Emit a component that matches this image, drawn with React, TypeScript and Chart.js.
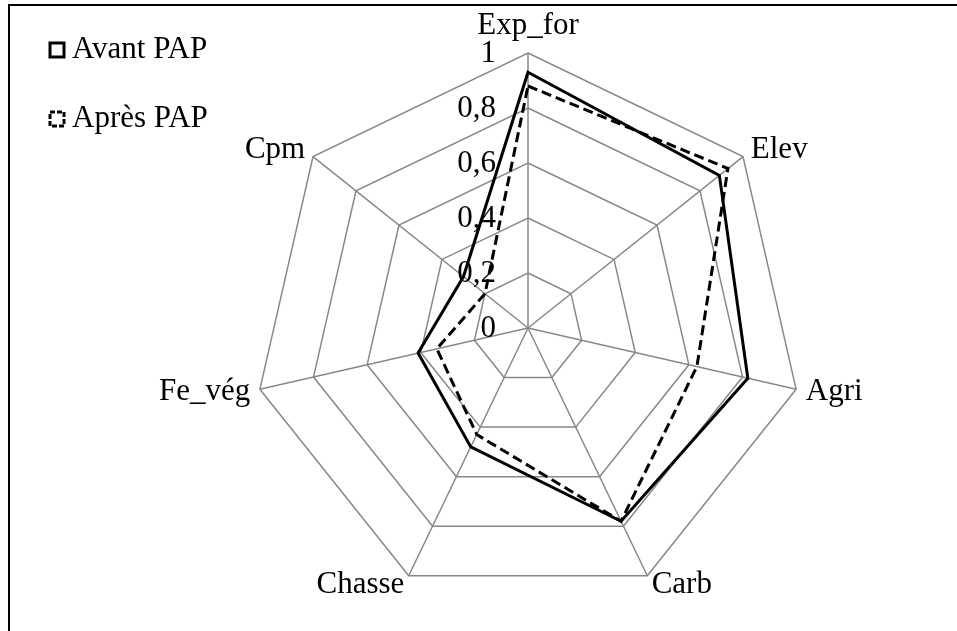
import React, { useEffect, useRef } from "react";
import { Chart, registerables } from "chart.js";

Chart.register(...registerables);

const categories = ["Exp_for", "Elev", "Agri", "Carb", "Chasse", "Fe_vég", "Cpm"];
const avantPAP = [0.93, 0.89, 0.82, 0.78, 0.48, 0.41, 0.3];
const apresPAP = [0.88, 0.93, 0.63, 0.78, 0.43, 0.34, 0.2];
const tickValues = [0, 0.2, 0.4, 0.6, 0.8, 1];
const tickLabels = ["0", "0,2", "0,4", "0,6", "0,8", "1"];
const seriesNames = ["Avant PAP", "Après PAP"];

const FONT = "31px 'Liberation Serif', 'Times New Roman', serif";

const overlayPlugin = {
  id: "overlay",
  beforeDraw(chart: any) {
    const ctx = chart.ctx;
    ctx.save();
    ctx.fillStyle = "#fff";
    ctx.fillRect(0, 0, chart.width, chart.height);
    ctx.strokeStyle = "#000";
    ctx.lineWidth = 2;
    ctx.strokeRect(9, 5, chart.width + 20, chart.height + 20);
    ctx.restore();
  },
  afterDraw(chart: any) {
    const ctx = chart.ctx;
    const r = chart.scales.r;
    ctx.save();
    ctx.font = FONT;
    ctx.fillStyle = "#000";
    // point labels
    categories.forEach((lab, i) => {
      const p0 = r.getPointPosition(i, r.drawingArea);
      if (Math.abs(p0.x - r.xCenter) < 1 && p0.y < r.yCenter) {
        const p = r.getPointPosition(i, r.drawingArea + 27);
        ctx.textAlign = "center";
        ctx.textBaseline = "middle";
        ctx.fillText(lab, p.x, p.y);
      } else {
        const p = r.getPointPosition(i, r.drawingArea + 10);
        ctx.textAlign = p.x > r.xCenter ? "left" : "right";
        ctx.textBaseline = "middle";
        ctx.fillText(lab, p.x, p.y);
      }
    });
    // tick labels
    ctx.textAlign = "right";
    ctx.textBaseline = "middle";
    tickValues.forEach((v, i) => {
      const d = r.getDistanceFromCenterForValue(v);
      ctx.fillText(tickLabels[i], r.xCenter - 32, r.yCenter - d + 1);
    });
    // legend
    const items = [
      { name: seriesNames[0], y: 50, dash: [] as number[] },
      { name: seriesNames[1], y: 119, dash: [5, 2] },
    ];
    items.forEach((it) => {
      ctx.save();
      ctx.strokeStyle = "#000";
      ctx.lineWidth = 3;
      ctx.setLineDash(it.dash);
      ctx.strokeRect(50, it.y - 7, 14, 14);
      ctx.restore();
      ctx.textAlign = "left";
      ctx.textBaseline = "middle";
      ctx.fillText(it.name, 72, it.y);
    });
    ctx.restore();
  },
};

export default function App() {
  const ref = useRef<HTMLCanvasElement>(null);
  useEffect(() => {
    if (!ref.current) return;
    const chart = new Chart(ref.current, {
      type: "radar",
      data: {
        labels: categories,
        datasets: [
          {
            label: seriesNames[0],
            data: avantPAP,
            borderColor: "#000",
            borderWidth: 3,
            pointRadius: 0,
            fill: false,
          },
          {
            label: seriesNames[1],
            data: apresPAP,
            borderColor: "#000",
            borderWidth: 3,
            borderDash: [10, 5],
            pointRadius: 0,
            fill: false,
          },
        ],
      },
      options: {
        animation: false,
        responsive: false,
        devicePixelRatio: 1,
        layout: { padding: { left: 253, right: 154, top: 53, bottom: 28 } },
        plugins: { legend: { display: false }, tooltip: { enabled: false } },
        scales: {
          r: {
            min: 0,
            max: 1,
            ticks: { display: false, stepSize: 0.2 },
            pointLabels: { display: false },
            grid: { color: "#888", lineWidth: 1.5 },
            angleLines: { color: "#888", lineWidth: 1.5 },
          },
        },
      },
      plugins: [overlayPlugin],
    });
    return () => chart.destroy();
  }, []);
  return (
    <div style={{ position: "fixed", left: 0, top: 0, width: 957, height: 631, overflow: "hidden", background: "#fff" }}>
      <canvas ref={ref} width={957} height={631} style={{ display: "block" }} />
    </div>
  );
}
